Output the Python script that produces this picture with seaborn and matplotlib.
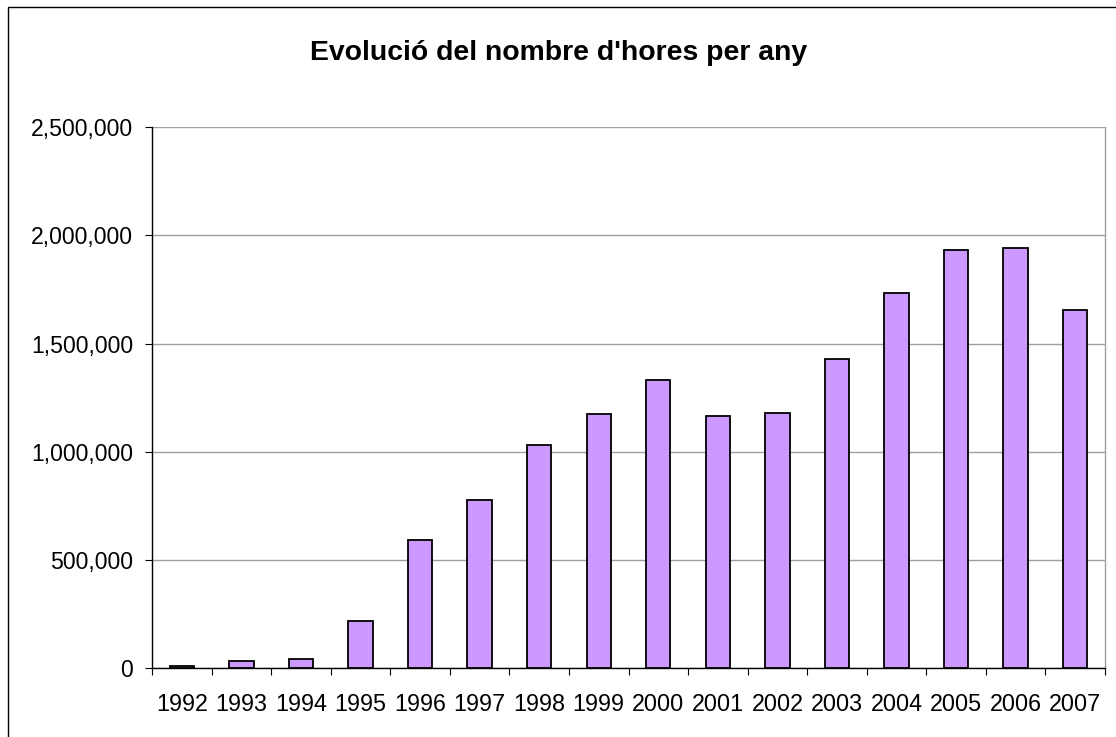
import matplotlib
matplotlib.use("Agg")
import matplotlib.pyplot as plt
import seaborn as sns
import pandas as pd
import numpy as np
from matplotlib.ticker import FuncFormatter, FixedLocator
from matplotlib.patches import Rectangle

years = ["1992", "1993", "1994", "1995", "1996", "1997", "1998", "1999",
         "2000", "2001", "2002", "2003", "2004", "2005", "2006", "2007"]
hours = [9000, 35000, 43000, 220000, 591000, 777000, 1030000, 1174000,
         1333000, 1165000, 1180000, 1427000, 1732000, 1933000, 1941000, 1655000]
y_ticks = [0, 500000, 1000000, 1500000, 2000000, 2500000]
title = "Evolució del nombre d'hores per any"

sns.set_theme(style="white")
plt.rcParams['font.family'] = ['Liberation Sans', 'DejaVu Sans']

df = pd.DataFrame({"year": years, "hours": hours})

fig = plt.figure(figsize=(11.16, 7.37), dpi=100)
fig.patch.set_facecolor("white")
ax = fig.add_axes([152/1116, 1-668.3/737, (1105-152)/1116, (668.3-127)/737])

sns.barplot(data=df, x="year", y="hours", color="#CC99FF", saturation=1,
            edgecolor="black", linewidth=1.3, width=0.41, ax=ax, zorder=3)

ax.set_ylim(0, 2500000)
ax.set_xlim(-0.5, len(years) - 0.5)
ax.set_yticks(y_ticks)
ax.yaxis.set_major_formatter(FuncFormatter(lambda v, p: f"{int(v):,}"))
ax.yaxis.grid(True, color="#a0a0a0", linewidth=1.0, zorder=0)
ax.set_axisbelow(True)

# x ticks at category boundaries, labels at centers
ax.xaxis.set_major_locator(FixedLocator(np.arange(-0.5, len(years), 1.0)))
ax.xaxis.set_major_formatter(FuncFormatter(lambda v, p: ""))
ax.xaxis.set_minor_locator(FixedLocator(np.arange(0, len(years))))
ax.set_xticklabels(years, minor=True)
ax.tick_params(axis="x", which="major", direction="out", length=5.2, width=0.8,
               color="black", bottom=True)
ax.tick_params(axis="x", which="minor", length=0, pad=18, labelsize=16.8,
               labelcolor="black", bottom=True)
ax.tick_params(axis="y", which="major", direction="out", length=5.2, width=0.8,
               color="black", pad=8.5, labelsize=16.6, labelcolor="black", left=True)

ax.set_xlabel("")
ax.set_ylabel("")

for side in ["left", "bottom"]:
    ax.spines[side].set_color("black")
    ax.spines[side].set_linewidth(1.0)
    ax.spines[side].set_visible(True)
ax.spines["top"].set_visible(False)
ax.spines["right"].set_color("#a0a0a0")
ax.spines["right"].set_linewidth(1.0)
ax.spines["right"].set_visible(True)

fig.text(559/1116, 1-53/737, title, ha="center", va="center",
         fontsize=20.4, fontweight="bold", color="black")

# outer chart frame (extends beyond right/bottom edge)
fig.patches.append(Rectangle((8/1116, -0.05), 1.2, 1-6.7/737 + 0.05,
                             transform=fig.transFigure, fill=False,
                             edgecolor="black", linewidth=1.0))

fig.savefig("out.png", dpi=100, facecolor="white")
